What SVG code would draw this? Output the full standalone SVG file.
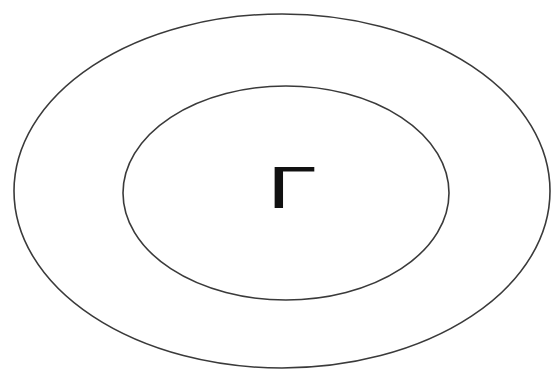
<svg xmlns="http://www.w3.org/2000/svg" width="555" height="371" viewBox="0 0 555 371">
<style>
.ring{fill:none;stroke:#3a3a3a;stroke-width:1.6}
.lbl{font-family:"Liberation Sans",Arial,sans-serif;font-size:60px;fill:#111}
</style>
<rect width="555" height="371" fill="#ffffff"/>
<g id="outer"><ellipse class="ring" cx="282" cy="191" rx="268" ry="177"/></g>
<g id="inner"><ellipse class="ring" cx="286" cy="193" rx="163" ry="107"/>
<text class="lbl" text-anchor="middle" transform="translate(292,208) scale(1.5,1)">Γ</text></g>
<g id="connectors"></g>
</svg>
